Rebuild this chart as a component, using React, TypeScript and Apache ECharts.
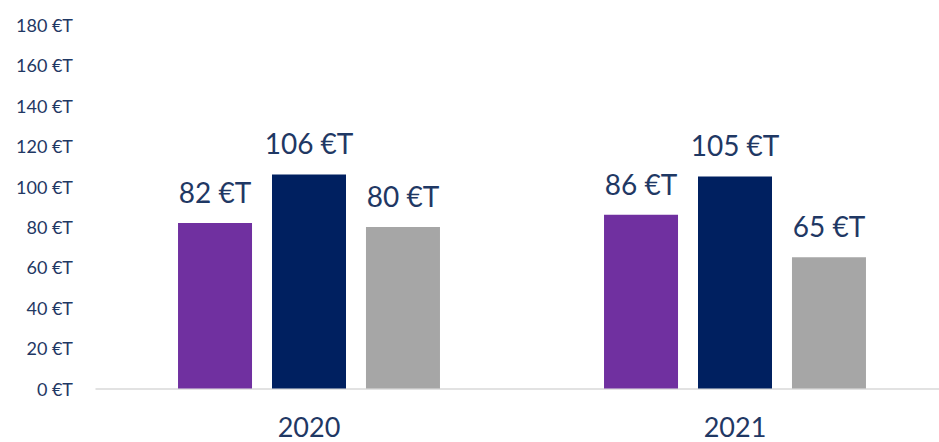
import React, { useEffect, useRef } from "react";
import * as echarts from "echarts";

const categories = ["2020", "2021"];
const seriesA = [82, 86];
const seriesB = [106, 105];
const seriesC = [80, 65];
const colors = ["#7030a0", "#002060", "#a6a6a6"];
const yTicks = [0, 20, 40, 60, 80, 100, 120, 140, 160, 180];

export default function App() {
  const ref = useRef<HTMLDivElement>(null);
  useEffect(() => {
    const chart = echarts.init(ref.current!, null, { renderer: "svg" });
    const font = "Lato, 'Open Sans', sans-serif";
    const mk = (name: string, data: number[], color: string) => ({
      name,
      type: "bar",
      data,
      barWidth: 74,
      barGap: "27%",
      itemStyle: { color },
      label: {
        show: true,
        position: "top",
        distance: 17,
        formatter: (p: any) => `${p.value} €T`,
        color: "#1f3864",
        fontSize: 28,
        fontFamily: font,
      },
    });
    chart.setOption({
      animation: false,
      grid: { left: 96, right: -9, top: 25, bottom: 53.5, containLabel: false, outerBoundsMode: "none" },
      xAxis: {
        type: "category",
        data: categories,
        axisLine: { show: true, lineStyle: { color: "#d9d9d9", width: 1.5 } },
        axisTick: { show: false },
        axisLabel: { color: "#1f3864", fontSize: 27, fontFamily: font, margin: 24 },
      },
      yAxis: {
        type: "value",
        min: yTicks[0],
        max: yTicks[yTicks.length - 1],
        interval: 20,
        splitLine: { show: false },
        axisLine: { show: false },
        axisTick: { show: false },
        axisLabel: {
          color: "#1f3864",
          fontSize: 18,
          fontFamily: font,
          margin: 23,
          formatter: (v: number) => `${v} €T`,
        },
      },
      series: [mk("A", seriesA, colors[0]), mk("B", seriesB, colors[1]), mk("C", seriesC, colors[2])],
    });
    return () => chart.dispose();
  }, []);
  return <div ref={ref} style={{ width: 939, height: 442, position: "absolute", left: 0, top: 0 }} />;
}
